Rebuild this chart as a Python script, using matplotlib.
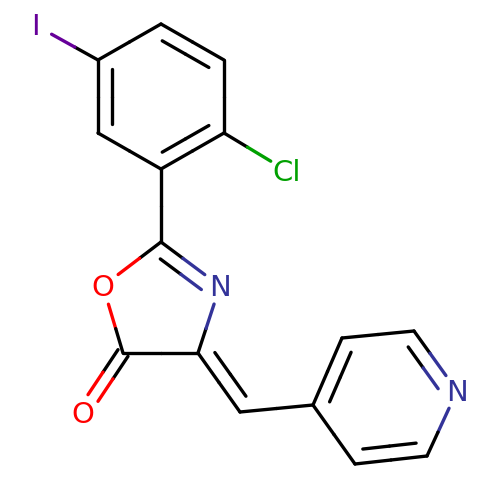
import matplotlib
matplotlib.use('Agg')
import matplotlib.pyplot as plt
import numpy as np

# Atom centres in picture pixels, elements and bonds
atom_names = ['C1', 'C2', 'C3', 'C4', 'C5', 'C6', 'I', 'Cl', 'Cx', 'Nx', 'Cy', 'Cz', 'Ox', 'Oz',
              'CH', 'P1', 'P2', 'P3', 'Np', 'P5', 'P6']
atom_x = [161, 224, 224, 161, 98, 98, 35, 287, 161, 220, 198, 123, 103, 83,
          240, 313, 342, 414, 457, 427, 355]
atom_y = [24, 60, 133, 169, 133, 60, 25, 171, 242, 286, 353, 353, 286, 413,
          412, 405, 338, 331, 391, 456, 464]
labels = {'I': 'I', 'Cl': 'Cl', 'Nx': 'N', 'Ox': 'O', 'Oz': 'O', 'Np': 'N'}
colors = {'I': '#660099', 'Cl': '#00A000', 'Nx': '#333399', 'Ox': '#FF0000', 'Oz': '#FF0000', 'Np': '#333399'}

single_bonds = [('C2', 'C3'), ('C4', 'C5'), ('C6', 'C1'), ('C6', 'I'), ('C3', 'Cl'), ('C4', 'Cx'),
                ('Cx', 'Ox'), ('Ox', 'Cz'), ('Cz', 'Cy'), ('Cy', 'Nx'), ('CH', 'P1'),
                ('P1', 'P6'), ('P2', 'P3'), ('Np', 'P5')]
# double bonds: the second line is drawn towards the given point
ring_doubles = [('C1', 'C2', (161, 96)), ('C3', 'C4', (161, 96)), ('C5', 'C6', (161, 96)),
                ('Cx', 'Nx', (161, 320)), ('Cy', 'CH', (320, 360)),
                ('P1', 'P2', (385, 397)), ('P3', 'Np', (385, 397)), ('P5', 'P6', (385, 397))]

pos = {n: np.array([x, y], dtype=float) for n, x, y in zip(atom_names, atom_x, atom_y)}


def clip(p, q, centre, r=19):
    # move p along p->q until it is r away from the label centre
    d = q - p
    f = p - centre
    a, b, c = d @ d, 2 * f @ d, f @ f - r * r
    if c >= 0:
        return p
    t = (-b + np.sqrt(b * b - 4 * a * c)) / (2 * a)
    return p + t * d


def draw_line(ax, p, q, a, b):
    # each half of the visible line takes the colour of its own atom
    if a in labels:
        p = clip(p, q, pos[a])
    if b in labels:
        q = clip(q, p, pos[b])
    mid = (p + q) / 2
    for s, e, n in ((p, mid, a), (mid, q, b)):
        ax.plot([s[0], e[0]], [s[1], e[1]], color=colors.get(n, 'black'), linewidth=2.4,
                solid_capstyle='round')


fig, ax = plt.subplots(figsize=(5, 5), dpi=100)
fig.subplots_adjust(0, 0, 1, 1)
ax.set_xlim(0, 500)
ax.set_ylim(500, 0)
ax.axis('off')

for a, b in single_bonds:
    draw_line(ax, pos[a], pos[b], a, b)

for a, b, side in ring_doubles:
    p, q = pos[a], pos[b]
    draw_line(ax, p, q, a, b)
    d = q - p
    n = np.array([-d[1], d[0]]) / np.hypot(*d)
    if n @ (np.array(side) - p) < 0:
        n = -n
    shorten = 0.13 * d
    draw_line(ax, p + shorten + 14 * n, q - shorten + 14 * n, a, b)

# carbonyl is drawn as two lines either side of the axis
p, q = pos['Cz'], pos['Oz']
d = q - p
n = np.array([-d[1], d[0]]) / np.hypot(*d)
for sign in (-1, 1):
    draw_line(ax, p + sign * 6 * n, q + sign * 6 * n, 'Cz', 'Oz')

for name, text in labels.items():
    ax.text(pos[name][0], pos[name][1] - 1, text, color=colors[name], fontsize=21,
            family='DejaVu Sans', ha='center', va='center_baseline')

fig.savefig('out.png', dpi=100, facecolor='white')
plt.close(fig)
